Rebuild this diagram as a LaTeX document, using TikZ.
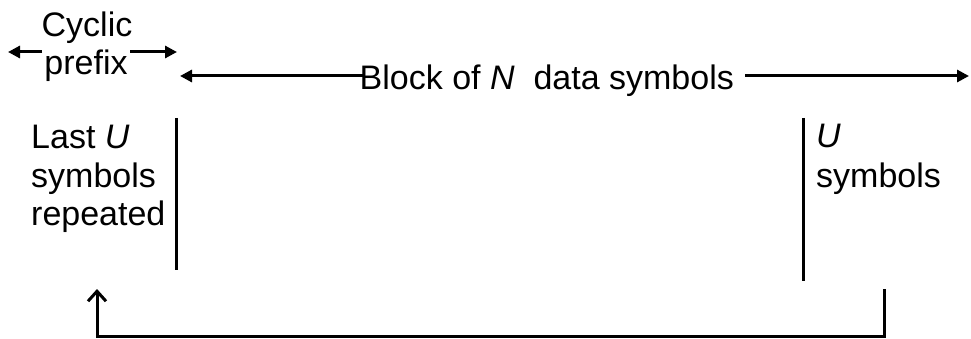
\documentclass[tikz,border=0pt]{standalone}
\usepackage{fontspec}
\setmainfont{Liberation Sans}
\usetikzlibrary{arrows.meta}
\begin{document}
\begin{tikzpicture}[x=1pt,y=-1pt,
  lbl/.style={inner sep=0pt,font=\fontsize{34}{39}\selectfont},
  ln/.style={line width=3pt},
  tri/.style={ln,-{Triangle[length=12pt,width=12pt]}},
  barb/.style={ln,-{Straight Barb[length=10pt,width=18pt,line width=3pt]}}]
\useasboundingbox (0,0) rectangle (971,339);
% texts
\node[lbl,anchor=base] (cyc) at (87,37) {Cyclic};
\node[lbl,anchor=base] (pre) at (86,75) {prefix};
\node[lbl,anchor=base west] (blk) at (359.5,90) {Block of \textit{N}\ \ data symbols};
\node[lbl,anchor=base west] (l1) at (31,149) {Last \textit{U}};
\node[lbl,anchor=base west] (l2) at (31,187) {symbols};
\node[lbl,anchor=base west] (l3) at (31,225) {repeated};
\node[lbl,anchor=base west] (r1) at (816,148) {\textit{U}};
\node[lbl,anchor=base west] (r2) at (816,188) {symbols};
% coordinates
\coordinate (cpL0) at (42,52);
\coordinate (cpL1) at (8,52);
\coordinate (cpR0) at (130,52);
\coordinate (cpR1) at (177,52);
\coordinate (bL1) at (180,76);
\coordinate (bL0) at (364,76);
\coordinate (bR0) at (745,76);
\coordinate (bR1) at (969,76);
\coordinate (vLt) at (176,118);
\coordinate (vLb) at (176,270);
\coordinate (vRt) at (803,118);
\coordinate (vRb) at (803,281);
\coordinate (fbS) at (884,289);
\coordinate (fbA) at (884,336);
\coordinate (fbB) at (97,336);
\coordinate (fbE) at (97,289);
% arrows
\draw[tri] (cpL0) -- (cpL1);
\draw[tri] (cpR0) -- (cpR1);
\draw[tri] (bL0) -- (bL1);
\draw[tri] (bR0) -- (bR1);
\draw[ln] (vLt) -- (vLb);
\draw[ln] (vRt) -- (vRb);
\draw[barb] (fbS) -- (fbA) -- (fbB) -- (fbE);
\end{tikzpicture}
\end{document}
